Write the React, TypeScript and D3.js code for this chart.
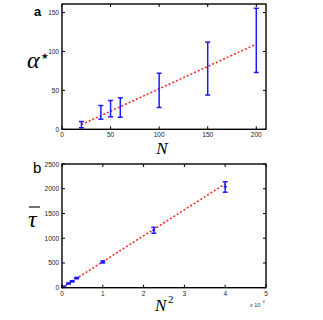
import * as d3 from "d3";
import React from "react";

// panel a: alpha* vs N
const nValues = [20, 40, 50, 60, 100, 150, 200];
const alphaLow = [2, 13, 16, 15.5, 28, 44, 73];
const alphaHigh = [10, 30.5, 37, 40.5, 72, 112, 155.5];
const alphaFitStart = [20, 6];
const alphaFitEnd = [200, 109.5];
const aXTicks = [0, 50, 100, 150, 200];
const aYTicks = [0, 50, 100, 150];

// panel b: tau vs N^2
const n2Values = [400, 1600, 2500, 3600, 10000, 22500, 40000];
const tauMean = [20, 85, 130, 195, 520, 1160, 2040];
const tauLow = [10, 75, 118, 182, 500, 1100, 1930];
const tauHigh = [30, 95, 142, 208, 540, 1220, 2140];
const tauFitStart = [0, 0];
const tauFitEnd = [40500, 2126];
const bXTicks = [0, 10000, 20000, 30000, 40000, 50000];
const bYTicks = [0, 500, 1000, 1500, 2000, 2500];

const left = 62;
const right = 266;
const tickFont = "Arial, 'Liberation Sans', sans-serif";
const mathFont = "'Liberation Serif', 'Times New Roman', serif";
const blue = "#1a1aff";
const red = "#ff2020";

function Frame({ x, y, xTicks, yTicks, fmtX }: any) {
  const [x0, x1] = x.range();
  const [y0, y1] = y.range();
  return (
    <g>
      {xTicks.map((t: number) => (
        <g key={"x" + t}>
          <line x1={x(t)} x2={x(t)} y1={y0} y2={y0 - 3} stroke="#000" />
          <line x1={x(t)} x2={x(t)} y1={y1} y2={y1 + 3} stroke="#000" />
          <text x={x(t)} y={y0 + 8} fontSize={6.5} fill="#222" textAnchor="middle" fontFamily={tickFont}>
            {fmtX(t)}
          </text>
        </g>
      ))}
      {yTicks.map((t: number) => (
        <g key={"y" + t}>
          <line x1={x0} x2={x0 + 3} y1={y(t)} y2={y(t)} stroke="#000" />
          <line x1={x1} x2={x1 - 3} y1={y(t)} y2={y(t)} stroke="#000" />
          <text x={x0 - 3} y={y(t) + 2.5} fontSize={6.5} fill="#222" textAnchor="end" fontFamily={tickFont}>
            {t}
          </text>
        </g>
      ))}
      <rect x={x0} y={y1} width={x1 - x0} height={y0 - y1} fill="none" stroke="#000" strokeWidth={1.4} />
    </g>
  );
}

function ErrorBars({ x, y, xs, lo, hi }: any) {
  return (
    <g stroke={blue} strokeWidth={1.5} fill="none">
      {xs.map((v: number, i: number) => (
        <g key={i}>
          <line x1={x(v)} x2={x(v)} y1={y(lo[i])} y2={y(hi[i])} />
          <line x1={x(v) - 2.5} x2={x(v) + 2.5} y1={y(lo[i])} y2={y(lo[i])} />
          <line x1={x(v) - 2.5} x2={x(v) + 2.5} y1={y(hi[i])} y2={y(hi[i])} />
        </g>
      ))}
    </g>
  );
}

export default function App() {
  const xa = d3.scaleLinear().domain([0, 210]).range([left, right]);
  const ya = d3.scaleLinear().domain([0, 161]).range([129.3, 4]);
  const xb = d3.scaleLinear().domain([0, 50000]).range([left, right]);
  const yb = d3.scaleLinear().domain([0, 2500]).range([287.7, 164]);

  const fitA = d3.line<number[]>().x(d => xa(d[0])).y(d => ya(d[1]));
  const fitB = d3.line<number[]>().x(d => xb(d[0])).y(d => yb(d[1]));

  return (
    <svg width={323} height={320} style={{ position: "absolute", left: 0, top: 0, background: "#fff" }}>
      <rect width={323} height={320} fill="#fff" />

      {/* panel a */}
      <path d={fitA([alphaFitStart, alphaFitEnd]) || ""} stroke={red} strokeWidth={1.5} strokeDasharray="2,2" fill="none" />
      <ErrorBars x={xa} y={ya} xs={nValues} lo={alphaLow} hi={alphaHigh} />
      <Frame x={xa} y={ya} xTicks={aXTicks} yTicks={aYTicks} fmtX={(t: number) => String(t)} />
      <text x={34} y={16} fontSize={13} fontWeight="bold" fontFamily={tickFont}>a</text>
      <text x={27} y={68} fontSize={24} fontStyle="italic" fontFamily={mathFont}>α</text>
      <text x={41} y={59} fontSize={8.5} fontFamily="'DejaVu Sans', sans-serif">★</text>
      <text x={162} y={154} fontSize={17} fontStyle="italic" textAnchor="middle" fontFamily={mathFont}>N</text>

      {/* panel b */}
      <path d={fitB([tauFitStart, tauFitEnd]) || ""} stroke={red} strokeWidth={1.5} strokeDasharray="2,2" fill="none" />
      <ErrorBars x={xb} y={yb} xs={n2Values} lo={tauLow} hi={tauHigh} />
      <g fill={blue}>
        {n2Values.map((v, i) => (
          <rect key={i} x={xb(v) - 1.5} y={yb(tauMean[i]) - 1} width={3} height={2} />
        ))}
      </g>
      <Frame x={xb} y={yb} xTicks={bXTicks} yTicks={bYTicks} fmtX={(t: number) => String(t / 10000)} />
      <text x={33} y={173} fontSize={15} fontFamily={tickFont}>b</text>
      <text x={28} y={227} fontSize={24} fontStyle="italic" fontFamily={mathFont}>τ</text>
      <line x1={29} x2={40} y1={207} y2={207} stroke="#000" strokeWidth={1.1} />
      <text x={155} y={311} fontSize={17} fontStyle="italic" fontFamily={mathFont}>N</text>
      <text x={168} y={303} fontSize={11} fontFamily={mathFont}>2</text>
      <text x={250} y={307} fontSize={5.5} fill="#333" fontFamily={tickFont}>x 10</text>
      <text x={262.5} y={303} fontSize={4} fill="#333" fontFamily={tickFont}>4</text>
    </svg>
  );
}
